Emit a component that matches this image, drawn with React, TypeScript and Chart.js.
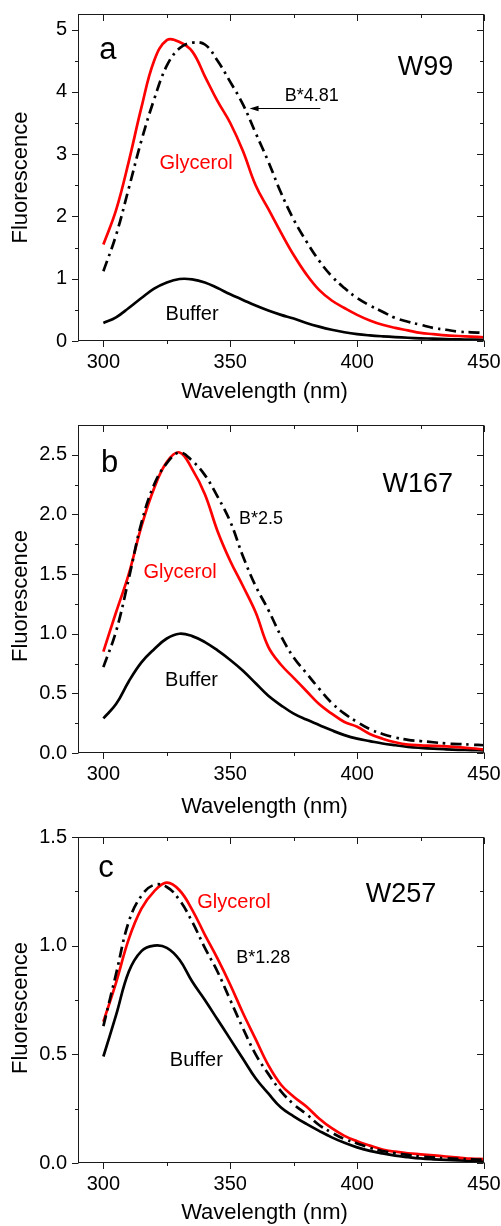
import React, { useEffect, useRef } from "react";
import { Chart, registerables } from "chart.js";

Chart.register(...registerables);

const FONT = '"Liberation Sans", Arial, Helvetica, sans-serif';

// ---------------- data ----------------
const wavelengths = [
  300, 305, 310, 315, 320, 325, 330, 335, 340, 345, 350, 355, 360, 365, 370, 375,
  380, 385, 390, 395, 400, 405, 410, 415, 420, 425, 430, 435, 440, 445, 450,
];

const xTicks = [300, 350, 400, 450];
const xMinorTicks = [325, 375, 425];
const xTitle = "Wavelength (nm)";
const yTitle = "Fluorescence";

// panel a (W99)
const aYTicks = [0, 1, 2, 3, 4, 5];
const aYMinorTicks = [0.5, 1.5, 2.5, 3.5, 4.5];
const aBuffer = [
  0.29, 0.38, 0.53, 0.69, 0.84, 0.94, 0.995, 0.99, 0.94, 0.85, 0.75, 0.66, 0.57, 0.49, 0.42, 0.36,
  0.29, 0.23, 0.18, 0.14, 0.11, 0.09, 0.075, 0.063, 0.052, 0.043, 0.037, 0.031, 0.026, 0.022, 0.02,
];
const aGlycerol = [
  1.55, 2.1, 2.88, 3.75, 4.5, 4.83, 4.8, 4.65, 4.25, 3.85, 3.5, 3.05, 2.5, 2.12, 1.74, 1.38,
  1.07, 0.82, 0.65, 0.53, 0.42, 0.33, 0.26, 0.21, 0.17, 0.13, 0.11, 0.09, 0.08, 0.07, 0.06,
];
const aScaled = [
  1.12, 1.7, 2.45, 3.22, 3.88, 4.42, 4.7, 4.79, 4.76, 4.5, 4.16, 3.8, 3.34, 2.88, 2.38, 1.95,
  1.6, 1.29, 1.04, 0.85, 0.69, 0.57, 0.47, 0.37, 0.31, 0.26, 0.21, 0.18, 0.15, 0.14, 0.13,
];

// panel b (W167)
const bYTicks = [0, 0.5, 1, 1.5, 2, 2.5];
const bYMinorTicks = [0.25, 0.75, 1.25, 1.75, 2.25];
const bBuffer = [
  0.29, 0.41, 0.6, 0.76, 0.87, 0.96, 1.0, 0.98, 0.93, 0.86, 0.78, 0.69, 0.585, 0.48, 0.4, 0.33,
  0.28, 0.235, 0.19, 0.15, 0.12, 0.1, 0.08, 0.065, 0.052, 0.043, 0.036, 0.031, 0.027, 0.024, 0.022,
];
const bGlycerol = [
  0.85, 1.18, 1.5, 1.9, 2.22, 2.44, 2.52, 2.38, 2.17, 1.86, 1.61, 1.4, 1.18, 0.89, 0.74, 0.63,
  0.52, 0.41, 0.33, 0.26, 0.22, 0.16, 0.12, 0.09, 0.07, 0.064, 0.06, 0.055, 0.048, 0.04, 0.03,
];
const bScaled = [
  0.72, 1.02, 1.46, 1.93, 2.25, 2.43, 2.52, 2.45, 2.33, 2.15, 1.94, 1.65, 1.4, 1.2, 0.98, 0.8,
  0.67, 0.54, 0.42, 0.33, 0.26, 0.2, 0.16, 0.13, 0.11, 0.1, 0.09, 0.08, 0.075, 0.07, 0.065,
];

// panel c (W257)
const cYTicks = [0, 0.5, 1, 1.5];
const cYMinorTicks = [0.25, 0.75, 1.25];
const cBuffer = [
  0.49, 0.68, 0.88, 0.975, 1.0, 0.99, 0.935, 0.835, 0.75, 0.66, 0.57, 0.48, 0.39, 0.32, 0.255, 0.215,
  0.18, 0.148, 0.118, 0.093, 0.072, 0.056, 0.044, 0.034, 0.027, 0.021, 0.017, 0.014, 0.012, 0.011, 0.01,
];
const cGlycerol = [
  0.65, 0.83, 1.03, 1.17, 1.25, 1.29, 1.255, 1.165, 1.05, 0.94, 0.82, 0.69, 0.57, 0.45, 0.36, 0.305,
  0.26, 0.205, 0.16, 0.125, 0.1, 0.08, 0.062, 0.052, 0.045, 0.04, 0.035, 0.03, 0.025, 0.02, 0.018,
];
const cScaled = [
  0.63, 0.87, 1.11, 1.23, 1.28, 1.27, 1.21, 1.11, 0.99, 0.88, 0.75, 0.62, 0.5, 0.41, 0.33, 0.27,
  0.225, 0.175, 0.14, 0.11, 0.09, 0.07, 0.055, 0.045, 0.037, 0.03, 0.026, 0.022, 0.019, 0.017, 0.015,
];

// ---------------- annotations (data coordinates) ----------------
const aLabels = [
  { text: "a", x: 298.4, y: 4.52, size: 31, color: "#000" },
  { text: "W99", x: 416, y: 4.265, size: 27, color: "#000" },
  { text: "B*4.81", x: 371.5, y: 3.85, size: 18, color: "#000" },
  { text: "Glycerol", x: 322.1, y: 2.76, size: 20, color: "#ff0000" },
  { text: "Buffer", x: 324.5, y: 0.345, size: 20, color: "#000" },
];
const aArrow = { x1: 385.5, x2: 357.6, y: 3.74 };

const bLabels = [
  { text: "b", x: 299.1, y: 2.358, size: 31, color: "#000" },
  { text: "W167", x: 410, y: 2.19, size: 27, color: "#000" },
  { text: "B*2.5", x: 353.4, y: 1.92, size: 18, color: "#000" },
  { text: "Glycerol", x: 315.8, y: 1.47, size: 20, color: "#ff0000" },
  { text: "Buffer", x: 324.3, y: 0.56, size: 20, color: "#000" },
];

const cLabels = [
  { text: "c", x: 298, y: 1.316, size: 31, color: "#000" },
  { text: "W257", x: 403.4, y: 1.201, size: 27, color: "#000" },
  { text: "Glycerol", x: 337, y: 1.175, size: 20, color: "#ff0000" },
  { text: "B*1.28", x: 352.4, y: 0.918, size: 18, color: "#000" },
  { text: "Buffer", x: 326.2, y: 0.448, size: 20, color: "#000" },
];

// ---------------- layout ----------------
type Box = {
  top: number;
  height: number;
  areaTop: number;
  areaBottom: number;
  xTitleY: number;
  yTitleY: number;
};

type Panel = {
  buffer: number[];
  glycerol: number[];
  scaled: number[];
  yMax: number;
  yTicks: number[];
  yMinor: number[];
  decimals: number;
  labels: { text: string; x: number; y: number; size: number; color: string }[];
  arrow?: { x1: number; x2: number; y: number };
  box: Box;
};

const panels: Panel[] = [
  {
    buffer: aBuffer, glycerol: aGlycerol, scaled: aScaled, yMax: 5.25,
    yTicks: aYTicks, yMinor: aYMinorTicks, decimals: 0, labels: aLabels, arrow: aArrow,
    box: { top: 0, height: 410, areaTop: 14, areaBottom: 341, xTitleY: 392, yTitleY: 177.5 },
  },
  {
    buffer: bBuffer, glycerol: bGlycerol, scaled: bScaled, yMax: 2.75,
    yTicks: bYTicks, yMinor: bYMinorTicks, decimals: 1, labels: bLabels,
    box: { top: 410, height: 415, areaTop: 425, areaBottom: 753, xTitleY: 807, yTitleY: 596 },
  },
  {
    buffer: cBuffer, glycerol: cGlycerol, scaled: cScaled, yMax: 1.5,
    yTicks: cYTicks, yMinor: cYMinorTicks, decimals: 1, labels: cLabels,
    box: { top: 825, height: 401, areaTop: 837, areaBottom: 1163, xTitleY: 1213, yTitleY: 1008 },
  },
];

const CANVAS_W = 501;
const AREA_LEFT = 78;
const AREA_RIGHT = 484;
const X_AXIS_H = 40;

function toPoints(values: number[]) {
  return wavelengths.map((w, i) => ({ x: w, y: values[i] }));
}

function PanelChart({ panel }: { panel: Panel }) {
  const ref = useRef<HTMLCanvasElement | null>(null);

  useEffect(() => {
    const canvas = ref.current;
    if (!canvas) return;
    const box = panel.box;

    const decor = {
      id: "decor",
      afterDatasetsDraw(chart: any) {
        const { ctx, chartArea } = chart;
        const xs = chart.scales.x;
        const ys = chart.scales.y;
        const L = Math.round(chartArea.left) + 0.5;
        const R = Math.round(chartArea.right) - 0.5;
        const T = Math.round(chartArea.top) + 0.5;
        const B = Math.round(chartArea.bottom) - 0.5;
        ctx.save();
        ctx.strokeStyle = "#1a1a1a";
        ctx.lineWidth = 1;
        ctx.strokeRect(L, T, R - L, B - T);

        const major = 6.5;
        const minor = 3.5;
        ctx.beginPath();
        const xt = (v: number, len: number) => {
          const px = Math.round(xs.getPixelForValue(v)) + 0.5;
          ctx.moveTo(px, B);
          ctx.lineTo(px, B + len);
          ctx.moveTo(px, T);
          ctx.lineTo(px, T + len);
        };
        const yt = (v: number, len: number) => {
          const py = Math.round(ys.getPixelForValue(v)) + 0.5;
          ctx.moveTo(L, py);
          ctx.lineTo(L - len, py);
          ctx.moveTo(R, py);
          ctx.lineTo(R - len, py);
        };
        xTicks.forEach((v) => xt(v, major));
        xMinorTicks.forEach((v) => xt(v, minor));
        panel.yTicks.forEach((v) => yt(v, major));
        panel.yMinor.forEach((v) => yt(v, minor));
        ctx.stroke();

        // annotations
        ctx.textAlign = "left";
        ctx.textBaseline = "alphabetic";
        panel.labels.forEach((l) => {
          ctx.font = `${l.size}px ${FONT}`;
          ctx.fillStyle = l.color;
          ctx.fillText(l.text, xs.getPixelForValue(l.x), ys.getPixelForValue(l.y));
        });

        if (panel.arrow) {
          const a = panel.arrow;
          const x1 = xs.getPixelForValue(a.x1);
          const x2 = xs.getPixelForValue(a.x2);
          const y = Math.round(ys.getPixelForValue(a.y)) + 0.5;
          ctx.strokeStyle = "#000";
          ctx.lineWidth = 1;
          ctx.beginPath();
          ctx.moveTo(x1, y);
          ctx.lineTo(x2 + 6, y);
          ctx.stroke();
          ctx.fillStyle = "#000";
          ctx.beginPath();
          ctx.moveTo(x2, y);
          ctx.lineTo(x2 + 9, y - 2.8);
          ctx.lineTo(x2 + 9, y + 2.8);
          ctx.closePath();
          ctx.fill();
        }

        // axis titles
        ctx.fillStyle = "#000";
        ctx.font = `22px ${FONT}`;
        ctx.textAlign = "center";
        ctx.textBaseline = "middle";
        ctx.fillText(xTitle, 264.5, box.xTitleY - box.top);
        ctx.translate(21, box.yTitleY - box.top);
        ctx.rotate(-Math.PI / 2);
        ctx.fillText(yTitle, 0, 0);
        ctx.restore();
      },
    };

    const lineBase = {
      pointRadius: 0,
      borderWidth: 2.7,
      fill: false,
      tension: 0.4,
    };

    const chart = new Chart(canvas, {
      type: "line",
      data: {
        datasets: [
          { ...lineBase, label: "Buffer scaled", data: toPoints(panel.scaled), borderColor: "#000", borderDash: [11, 5, 2.5, 5] },
          { ...lineBase, label: "Glycerol", data: toPoints(panel.glycerol), borderColor: "#ff0000" },
          { ...lineBase, label: "Buffer", data: toPoints(panel.buffer), borderColor: "#000" },
        ],
      },
      options: {
        responsive: false,
        animation: false,
        devicePixelRatio: 1,
        events: [],
        layout: {
          padding: {
            left: 0,
            right: CANVAS_W - AREA_RIGHT,
            top: box.areaTop - box.top,
            bottom: box.top + box.height - box.areaBottom - X_AXIS_H,
          },
        },
        plugins: { legend: { display: false }, tooltip: { enabled: false } },
        scales: {
          x: {
            type: "linear",
            min: 290,
            max: 450,
            bounds: "data",
            grid: { display: false, drawTicks: false },
            border: { display: false },
            afterBuildTicks: (s: any) => {
              s.ticks = xTicks.map((v) => ({ value: v }));
            },
            afterFit: (s: any) => {
              s.height = X_AXIS_H;
              s.paddingLeft = 0;
              s.paddingRight = 0;
            },
            ticks: {
              color: "#000",
              font: { family: FONT, size: 20, lineHeight: 1 },
              padding: 11.5,
              maxRotation: 0,
              autoSkip: false,
              callback: (v: any) => String(v),
            },
          },
          y: {
            type: "linear",
            min: 0,
            max: panel.yMax,
            bounds: "data",
            grid: { display: false, drawTicks: false },
            border: { display: false },
            afterBuildTicks: (s: any) => {
              s.ticks = panel.yTicks.map((v) => ({ value: v }));
            },
            afterFit: (s: any) => {
              s.width = AREA_LEFT;
              s.paddingTop = 0;
              s.paddingBottom = 0;
            },
            ticks: {
              color: "#000",
              font: { family: FONT, size: 20, lineHeight: 1 },
              padding: 11,
              autoSkip: false,
              callback: (v: any) => Number(v).toFixed(panel.decimals),
            },
          },
        },
      },
      plugins: [decor],
    } as any);

    return () => chart.destroy();
  }, [panel]);

  return (
    <canvas
      ref={ref}
      width={CANVAS_W}
      height={panel.box.height}
      style={{
        position: "absolute",
        left: 0,
        top: panel.box.top,
        width: CANVAS_W,
        height: panel.box.height,
      }}
    />
  );
}

export default function App() {
  return (
    <div
      style={{
        position: "absolute",
        left: 0,
        top: 0,
        width: CANVAS_W,
        height: 1226,
        background: "#fff",
      }}
    >
      {panels.map((p, i) => (
        <PanelChart key={i} panel={p} />
      ))}
    </div>
  );
}
